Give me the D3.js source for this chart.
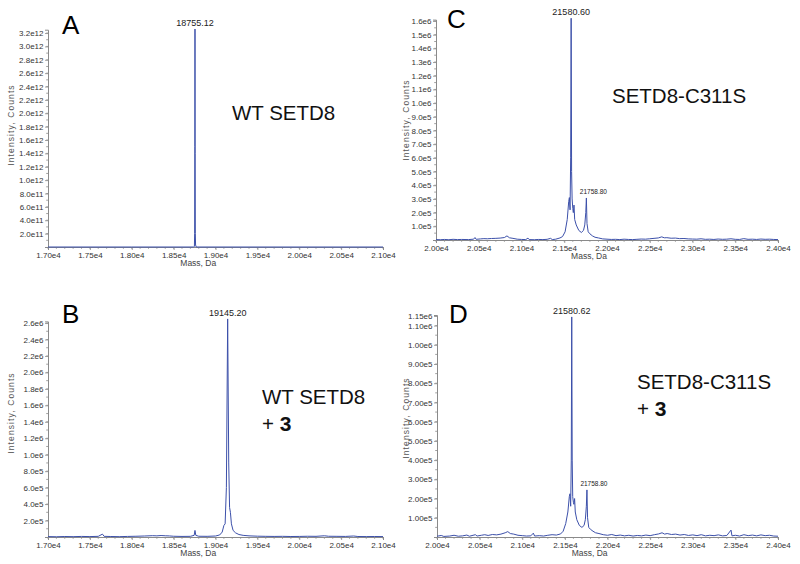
<!DOCTYPE html>
<html><head><meta charset="utf-8">
<script src="https://cdn.jsdelivr.net/npm/d3@7"></script>
<style>body{margin:0;background:#fff}svg{display:block}text{font-family:"Liberation Sans",Arial,sans-serif}</style>
</head><body><svg id="c" width="800" height="564"></svg>
<script>
// ---------- data ----------
const xLabelsAB = ["1.70e4","1.75e4","1.80e4","1.85e4","1.90e4","1.95e4","2.00e4","2.05e4","2.10e4"];
const xLabelsCD = ["2.00e4","2.05e4","2.10e4","2.15e4","2.20e4","2.25e4","2.30e4","2.35e4","2.40e4"];
const yLabelsA = ["2.0e11","4.0e11","6.0e11","8.0e11","1.0e12","1.2e12","1.4e12","1.6e12","1.8e12","2.0e12","2.2e12","2.4e12","2.6e12","2.8e12","3.0e12","3.2e12"];
const yLabelsB = ["2.0e5","4.0e5","6.0e5","8.0e5","1.0e6","1.2e6","1.4e6","1.6e6","1.8e6","2.0e6","2.2e6","2.4e6","2.6e6"];
const yLabelsC = ["1.0e5","2.0e5","3.0e5","4.0e5","5.0e5","6.0e5","7.0e5","8.0e5","9.0e5","1.0e6","1.1e6","1.2e6","1.3e6","1.4e6","1.5e6","1.6e6"];
const yLabelsD = ["1.00e5","2.00e5","3.00e5","4.00e5","5.00e5","6.00e5","7.00e5","8.00e5","9.00e5","1.00e6","1.10e6","1.15e6"];

// spectra: [mass (Da), intensity (counts)]
const specA = [[17000,0],[18000,0],[18740,0],[18748,1e10],[18751,2e11],[18753,1.5e12],[18755.12,3.26e12],[18757,1.4e12],[18759,2e11],[18762,3e10],[18770,0],[21000,0]];
const specB = [[17000,5e3],[17100,3e3],[17200,6e3],[17300,4e3],[17400,7e3],[17500,5e3],[17600,8e3],[17650,3.5e4],[17670,8e3],[17750,6e3],[17850,4e3],[17950,7e3],[18050,9e3],[18150,1.2e4],[18250,1.6e4],[18300,1.4e4],[18350,1.8e4],[18400,1.5e4],[18450,1.3e4],[18500,9e3],[18600,7e3],[18700,8e3],[18745,2e4],[18755,8e4],[18765,2e4],[18800,9e3],[18900,8e3],[19000,1.2e4],[19050,2.5e4],[19080,6e4],[19100,1.4e5],[19115,1.6e5],[19130,6e5],[19145.2,2.65e6],[19158,9e5],[19168,3.6e5],[19178,3.0e5],[19190,1.6e5],[19210,8e4],[19240,5e4],[19280,3e4],[19330,2e4],[19400,1.4e4],[19500,1e4],[19600,8e3],[19700,7e3],[19800,8e3],[19900,6e3],[20000,7e3],[20100,9e3],[20200,8e3],[20300,1.5e4],[20350,9e3],[20450,8e3],[20550,7e3],[20650,1.2e4],[20700,6e3],[20800,5e3],[20900,6e3],[21000,5e3]];
const specC = [[20000,3e3],[20050,2e3],[20100,4e3],[20150,2e3],[20200,5e3],[20250,3e3],[20300,4e3],[20380,3e3],[20440,6e3],[20456,1.8e4],[20470,5e3],[20520,8e3],[20560,1.0e4],[20600,9e3],[20650,1.1e4],[20700,1.2e4],[20750,1.4e4],[20800,1.8e4],[20830,3e4],[20860,1.6e4],[20900,1.2e4],[20950,6e3],[21000,4e3],[21050,3e3],[21076,1.4e4],[21090,3e3],[21150,2e3],[21200,4e3],[21250,3e3],[21300,5e3],[21340,1.2e4],[21360,3e3],[21400,6e3],[21450,1.5e4],[21480,2.5e4],[21510,6e4],[21535,1.5e5],[21552,2.8e5],[21560,3.1e5],[21568,2.2e5],[21575,6e5],[21580.6,1.62e6],[21586,5e5],[21592,3.0e5],[21600,2.3e5],[21606,2.0e5],[21614,2.55e5],[21622,1.5e5],[21640,1.1e5],[21670,7e4],[21700,5.5e4],[21725,7e4],[21740,1.1e5],[21752,2.0e5],[21758.8,3.07e5],[21766,1.2e5],[21780,6e4],[21800,4.5e4],[21830,3e4],[21860,2e4],[21900,1.5e4],[21950,8e3],[22000,6e3],[22050,4e3],[22100,5e3],[22150,3e3],[22200,6e3],[22250,4e3],[22300,3e3],[22350,5e3],[22400,7e3],[22450,6e3],[22500,9e3],[22550,1.2e4],[22600,1.5e4],[22640,2.3e4],[22670,1.6e4],[22700,1.7e4],[22750,1.3e4],[22800,1.4e4],[22850,1.0e4],[22900,1.1e4],[22950,8e3],[23000,7e3],[23050,6e3],[23100,9e3],[23150,5e3],[23200,6e3],[23250,4e3],[23300,7e3],[23350,5e3],[23400,6e3],[23450,9e3],[23500,5e3],[23550,4e3],[23600,1.0e4],[23650,5e3],[23700,6e3],[23750,4e3],[23800,7e3],[23850,5e3],[23900,6e3],[23950,4e3],[24000,3e3]];
const specD = [[20000,4e3],[20050,8e3],[20080,3e3],[20150,5e3],[20200,9e3],[20250,4e3],[20300,6e3],[20350,1.0e4],[20380,4e3],[20450,1.2e4],[20470,5e3],[20520,9e3],[20560,1.2e4],[20600,8e3],[20650,1.3e4],[20700,1.1e4],[20750,1.5e4],[20800,2.2e4],[20830,2.8e4],[20860,1.8e4],[20900,1.5e4],[20950,9e3],[21000,7e3],[21050,5e3],[21100,6e3],[21130,2.0e4],[21145,5e3],[21200,7e3],[21250,5e3],[21300,9e3],[21350,1.2e4],[21400,1.0e4],[21450,1.6e4],[21480,3e4],[21510,7e4],[21535,1.3e5],[21552,2.1e5],[21560,2.25e5],[21568,1.6e5],[21575,4e5],[21580.62,1.145e6],[21586,4e5],[21592,2.1e5],[21600,1.8e5],[21606,1.7e5],[21614,2.0e5],[21622,1.3e5],[21640,9e4],[21670,6e4],[21700,5e4],[21725,6e4],[21740,9e4],[21752,1.6e5],[21758.8,2.45e5],[21766,1.0e5],[21780,5e4],[21800,4e4],[21830,3e4],[21860,2.2e4],[21900,1.8e4],[21950,1.2e4],[22000,9e3],[22050,1.3e4],[22100,7e3],[22150,1.0e4],[22200,6e3],[22250,9e3],[22300,5e3],[22350,8e3],[22400,6e3],[22450,1.0e4],[22500,7e3],[22550,1.2e4],[22600,1.6e4],[22640,2.2e4],[22670,1.5e4],[22700,1.8e4],[22750,1.3e4],[22800,1.5e4],[22850,1.0e4],[22900,1.3e4],[22950,8e3],[23000,1.1e4],[23050,7e3],[23100,1.2e4],[23150,6e3],[23200,9e3],[23250,7e3],[23300,1.1e4],[23350,6e3],[23400,8e3],[23449,3.6e4],[23460,6e3],[23500,9e3],[23550,5e3],[23600,1.2e4],[23650,7e3],[23700,1.0e4],[23750,6e3],[23800,1.1e4],[23850,7e3],[23900,9e3],[23950,5e3],[24000,4e3]];

const peaksA = [{mass:18755.12, value:3.26e12, text:"18755.12", big:true}];
const peaksB = [{mass:19145.20, value:2.65e6, text:"19145.20", big:true}];
const peaksC = [{mass:21580.60, value:1.62e6, text:"21580.60", big:true},{mass:21758.80, value:3.07e5, text:"21758.80", big:false}];
const peaksD = [{mass:21580.62, value:1.145e6, text:"21580.62", big:true},{mass:21758.80, value:2.45e5, text:"21758.80", big:false}];

// ---------- layout ----------
const panels = [
  {letter:"A", spec:specA, xl:xLabelsAB, yl:yLabelsA, peaks:peaksA, xd:[17000,21000], xr:[48,383], yd:[0,3.25e12], yr:[247,29.7], minorY:1e11,
   letterPos:[62,34], ylab:[14,125], name:[["WT SETD8"]], namePos:[232,120]},
  {letter:"B", spec:specB, xl:xLabelsAB, yl:yLabelsB, peaks:peaksB, xd:[17000,21000], xr:[48,383], yd:[0,2.62e6], yr:[537,321.4], minorY:1e5,
   letterPos:[62,323], ylab:[14,413], name:[["WT SETD8"],["+ ","3"]], namePos:[262,404]},
  {letter:"C", spec:specC, xl:xLabelsCD, yl:yLabelsC, peaks:peaksC, xd:[20000,24000], xr:[436,778], yd:[0,1.61e6], yr:[240,19.6], minorY:5e4,
   letterPos:[447,28], ylab:[409,120], name:[["SETD8-C311S"]], namePos:[612,103]},
  {letter:"D", spec:specD, xl:xLabelsCD, yl:yLabelsD, peaks:peaksD, xd:[20000,24000], xr:[437,778], yd:[0,1.155e6], yr:[537,315], minorY:5e4,
   letterPos:[449,323], ylab:[409,418], name:[["SETD8-C311S"],["+ ","3"]], namePos:[637,389]}
];

const svg = d3.select("#c");
const axisCol = "#8a8a8a", tickTxt = "#333", lineCol = "#3c50aa";

panels.forEach(p => {
  const x = d3.scaleLinear().domain(p.xd).range(p.xr);
  const y = d3.scaleLinear().domain(p.yd).range(p.yr);
  const g = svg.append("g");
  const x0 = p.xr[0], yb = p.yr[0];

  // minor ticks
  const yMinor = d3.range(p.minorY, p.yd[1], p.minorY);
  g.selectAll(null).data(yMinor).join("line")
    .attr("x1", x0 - 1.8).attr("x2", x0).attr("y1", d => y(d)).attr("y2", d => y(d))
    .attr("stroke", axisCol).attr("stroke-width", 0.8);
  const xMinor = d3.range(p.xd[0], p.xd[1] + 1, 100);
  g.selectAll(null).data(xMinor).join("line")
    .attr("x1", d => x(d)).attr("x2", d => x(d)).attr("y1", yb).attr("y2", yb + 1.8)
    .attr("stroke", axisCol).attr("stroke-width", 0.8);

  // y axis
  const yAxis = d3.axisLeft(y).tickValues(p.yl.map(Number)).tickFormat((d,i) => p.yl[i]).tickSize(3).tickPadding(1.5);
  const ya = g.append("g").attr("transform", `translate(${x0},0)`).call(yAxis);
  // x axis
  const xAxis = d3.axisBottom(x).tickValues(p.xl.map(Number)).tickFormat((d,i) => p.xl[i]).tickSize(3).tickPadding(2);
  const xa = g.append("g").attr("transform", `translate(0,${yb})`).call(xAxis);
  [ya, xa].forEach(a => {
    a.select(".domain").attr("stroke", axisCol).attr("stroke-width", 1);
    a.selectAll(".tick line").attr("stroke", axisCol).attr("stroke-width", 0.8);
    a.selectAll(".tick text").attr("fill", tickTxt).style("font-size", "8px").style("font-family", "'Liberation Sans', Arial, sans-serif");
  });

  // spectrum
  g.append("path").datum(p.spec)
    .attr("d", d3.line().x(d => x(d[0])).y(d => y(d[1])))
    .attr("fill", "none").attr("stroke", lineCol).attr("stroke-width", 1).attr("stroke-linejoin", "round");

  // peak labels
  g.selectAll(null).data(p.peaks).join("text")
    .attr("x", d => x(d.mass) + (d.big ? 0 : 7))
    .attr("y", d => y(d.value) - (d.big ? 3 : 4))
    .attr("text-anchor", "middle")
    .style("font-size", d => d.big ? "9px" : "6.5px")
    .attr("fill", "#222")
    .text(d => d.text);

  // axis titles
  g.append("text").attr("transform", `translate(${p.ylab[0]},${p.ylab[1]}) rotate(-90)`)
    .attr("text-anchor", "middle").style("font-size", "8.5px").style("letter-spacing", "1.1px")
    .attr("fill", "#555").text("Intensity, Counts");
  g.append("text").attr("x", x(p.xd[0] + 0.395 * (p.xd[1]-p.xd[0]))).attr("y", yb + 19)
    .style("font-size", "8.5px").attr("fill", "#444").text("Mass, Da");

  // panel letter
  g.append("text").attr("x", p.letterPos[0]).attr("y", p.letterPos[1])
    .style("font-size", "26px").attr("fill", "#000").text(p.letter);

  // sample name
  p.name.forEach((ln, i) => {
    const t = g.append("text").attr("x", p.namePos[0]).attr("y", p.namePos[1] + i * 27)
      .style("font-size", "20.5px").attr("fill", "#111");
    if (ln.length === 1) t.text(ln[0]);
    else { t.append("tspan").text(ln[0]); t.append("tspan").style("font-weight", "bold").style("font-size", "21px").text(ln[1]); }
  });
});
</script></body></html>
